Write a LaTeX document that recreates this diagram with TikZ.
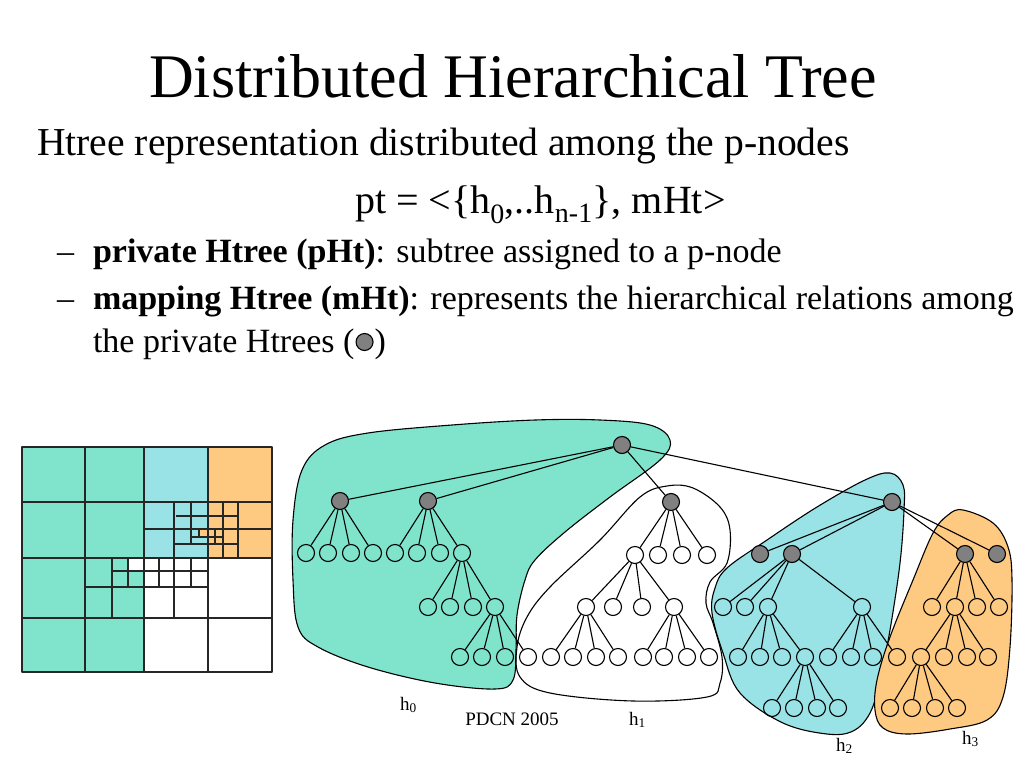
\documentclass[tikz,border=0pt]{standalone}
\usepackage{fontspec}
\setmainfont{Liberation Serif}
\definecolor{tealA}{RGB}{128,228,205}
\definecolor{cyanB}{RGB}{153,226,229}
\definecolor{orangeC}{RGB}{254,202,130}
\definecolor{nodegray}{RGB}{128,128,128}
\tikzset{
  pn/.style={circle, draw, line width=1.1pt, minimum size=17pt, inner sep=0pt},
  gn/.style={pn, fill=nodegray},
  ed/.style={line width=1.1pt},
  blob/.style={line width=1.1pt},
  gl/.style={line width=1.5pt, draw=black!85},
  txt/.style={inner sep=0pt, outer sep=0pt},
}
\newcommand\kids[3]{%
  \foreach \n/\x in {#3} {\node[pn] (\n) at (\x,#2) {}; \draw[ed] (#1) -- (\n);}}
\begin{document}
\begin{tikzpicture}[x=1pt, y=-1pt, line join=round]
\useasboundingbox[fill=white] (0,0) rectangle (1024,768);

% ---------- text ----------
\node[txt, anchor=base] (title) at (513,97) {\fontsize{62}{70}\selectfont Distributed Hierarchical Tree};
\node[txt, anchor=base west] (l1) at (37,155) {\fontsize{39.6}{48}\selectfont Htree representation distributed among the p-nodes};
\node[txt, anchor=base west] (l2) at (355,213) {\fontsize{40}{48}\selectfont pt = <\{h\textsubscript{0},..h\textsubscript{n-1}\}, mHt>};
\node[txt, anchor=base west] (dash1) at (57,262) {\fontsize{34}{40}\selectfont –};
\node[txt, anchor=base west] (b1) at (93,262) {\fontsize{34}{40}\selectfont \textbf{private Htree (pHt)}: subtree assigned to a p-node};
\node[txt, anchor=base west] (dash2) at (57,309) {\fontsize{34}{40}\selectfont –};
\node[txt, anchor=base west] (b2) at (93,309) {\fontsize{34}{40}\selectfont \textbf{mapping Htree (mHt)}: represents the hierarchical relations among};
\node[txt, anchor=base west] (b3) at (93,352) {\fontsize{34}{40}\selectfont the private Htrees (};
\node[gn, minimum size=17pt, anchor=west] (bc) at ([xshift=1pt,yshift=10pt]b3.base east) {};
\node[txt, anchor=base west] (b3e) at ([xshift=1pt]bc.east |- b3.base) {\fontsize{34}{40}\selectfont )};

% ---------- grid ----------
\fill[tealA] (22,447) rectangle (144,672);
\fill[cyanB] (144,447) rectangle (208,558);
\fill[orangeC] (208,447) rectangle (272,558);
\fill[orangeC] (199,529) rectangle (208,537);
\fill[white] (128,558) rectangle (144,571);
\draw[gl] (22,447) rectangle (272,672);
\draw[gl] (85,447) -- (85,672) (144,447) -- (144,672) (208,447) -- (208,672)
  (22,502) -- (272,502) (22,558) -- (272,558) (22,618) -- (272,618)
  (144,529) -- (272,529) (174,502) -- (174,558) (238,502) -- (238,558)
  (176,516) -- (238,516) (191,502) -- (191,544) (223,502) -- (223,558)
  (174,544) -- (238,544) (191,537) -- (222,537) (199,529) -- (199,537) (215,529) -- (215,544)
  (112,558) -- (112,618) (85,587) -- (208,587) (112,571) -- (208,571)
  (128,558) -- (128,587) (159,558) -- (159,587) (174,558) -- (174,618) (191,558) -- (191,587);

% ---------- blobs ----------
\draw[blob, fill=tealA] plot[smooth cycle, tension=0.6] coordinates {(293,520) (302,470) (325,445) (368,433) (452,425) (535,420) (600,420) (650,425) (670,440) (660,460) (610,497) (565,532) (535,560) (525,580) (517,615) (516,650) (513,680) (495,689) (435,683) (368,667) (318,647) (298,627) (293,580)};
\draw[blob] plot[smooth cycle, tension=0.6] coordinates {(667,486) (693,488) (720,507) (730,530) (727,563) (710,582) (706,603) (713,623) (722,657) (720,683) (707,697) (633,701) (550,693) (520,677) (517,647) (527,617) (550,587) (600,540) (640,497)};
\draw[blob, fill=cyanB] plot[smooth cycle, tension=0.6] coordinates {(890,473) (903,485) (904,510) (900,563) (890,630) (880,680) (870,713) (853,731) (827,734) (783,723) (740,693) (723,653) (712,613) (715,588) (727,568) (767,540) (817,507) (865,480)};
\draw[blob, fill=orangeC] plot[smooth cycle, tension=0.6] coordinates {(963,510) (993,523) (1008,547) (1012,580) (1010,647) (1003,697) (987,720) (950,729) (907,734) (883,728) (875,710) (877,680) (890,637) (913,580) (933,533) (948,515)};

% ---------- tree ----------
\node[gn] (r) at (622,445) {};
\foreach \n/\x/\y in {a/340/501, b/428/501, c/671/502, d/892/502} {\node[gn] (\n) at (\x,\y) {}; \draw[ed] (r) -- (\n);}
\foreach \n/\x in {d1/760, d2/792, d3/965, d4/997} {\node[gn] (\n) at (\x,554) {}; \draw[ed] (d) -- (\n);}

\kids{a}{553}{a1/306, a2/328, a3/351, a4/373}
\kids{b}{553}{b1/395, b2/417, b3/440, b4/462}
\kids{b4}{607}{b41/428, b42/450, b43/473, b44/495}
\kids{b44}{657}{e1/460, e2/482, e3/505, e4/528}

\kids{c}{555}{c1/635, c2/658, c3/682, c4/707}
\kids{c1}{607}{c11/586, c12/613, c13/642, c14/674}
\kids{c11}{657}{f1/551, f2/573, f3/596, f4/618}
\kids{c14}{657}{g1/643, g2/664, g3/687, g4/709}

\kids{d2}{607}{k1/723, k2/745, k3/768, k4/862}
\kids{k3}{657}{m1/738, m2/760, m3/782, m4/805}
\kids{k4}{657}{n1/828, n2/851, n3/873, n4/897}
\kids{m4}{708}{p1/772, p2/794, p3/817, p4/838}

\kids{d3}{607}{q1/932, q2/955, q3/977, q4/999}
\kids{q2}{657}{s1/921, s2/944, s3/967, s4/988}
\kids{s1}{708}{u1/890, u2/912, u3/935, u4/957}

% ---------- labels ----------
\node[txt, anchor=base west] (h0) at (400,710) {\fontsize{19}{22}\selectfont h\textsubscript{0}};
\node[txt, anchor=base] (pdcn) at (512,725) {\fontsize{19}{22}\selectfont PDCN 2005};
\node[txt, anchor=base west] (h1) at (629,725) {\fontsize{19}{22}\selectfont h\textsubscript{1}};
\node[txt, anchor=base west] (h2) at (836,751) {\fontsize{19}{22}\selectfont h\textsubscript{2}};
\node[txt, anchor=base west] (h3) at (962,744) {\fontsize{19}{22}\selectfont h\textsubscript{3}};
\end{tikzpicture}
\end{document}
